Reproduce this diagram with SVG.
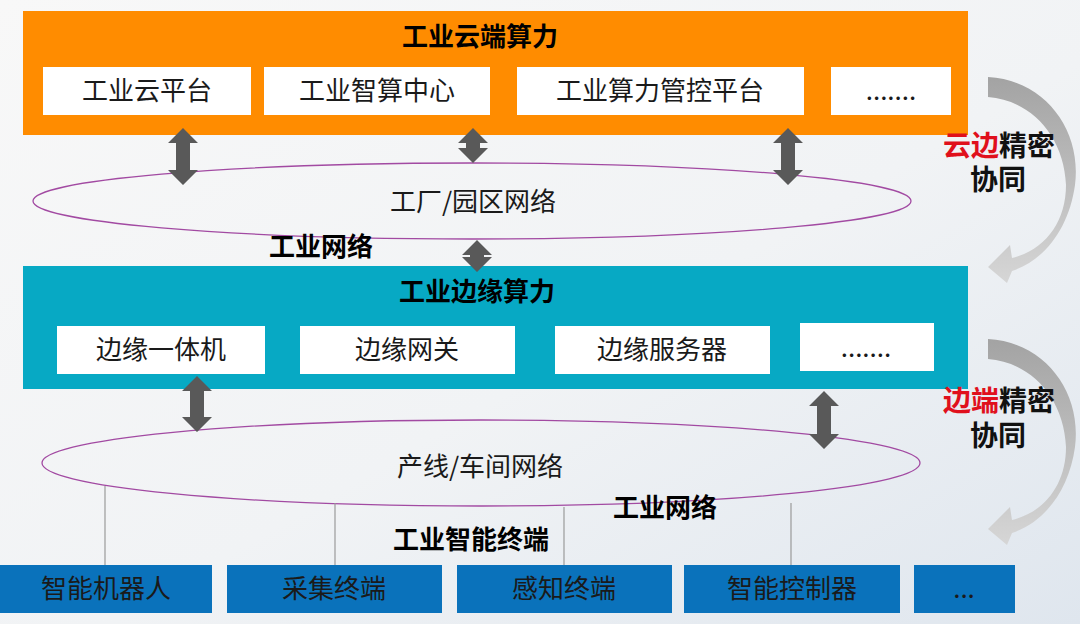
<svg xmlns="http://www.w3.org/2000/svg" width="1080" height="624" viewBox="0 0 1080 624">
<defs>
<linearGradient id="bg" x1="0" y1="0" x2="1" y2="1">
<stop offset="0" stop-color="#f8f8f8"/>
<stop offset="0.55" stop-color="#f1f3f5"/>
<stop offset="1" stop-color="#dfe6ee"/>
</linearGradient>
<linearGradient id="curv" x1="0" y1="0" x2="0" y2="1">
<stop offset="0" stop-color="#a3a3a3"/>
<stop offset="1" stop-color="#d6d6d6"/>
</linearGradient>
<path id="curved" d="M 988 77 C 1045 80 1082 130 1075 185 C 1069 228 1045 260 1012 271 L 1007 283 L 988 267 L 1010 245 L 1012 258 C 1045 250 1066 222 1066 185 C 1064 135 1030 100 988 97 Z" fill="url(#curv)"/>
</defs>
<style>
.t{font-family:"Noto Sans CJK SC","Noto Sans",sans-serif;font-size:26px;fill:#1a1a1a;text-anchor:middle}
.b{font-weight:bold;fill:#000}
.wb{fill:#fff}
.dbl{fill:#595959}
.ell{fill:none;stroke:#a24aa2;stroke-width:1.3}
.vl{stroke:#9a9a9a;stroke-width:1.2}
.blue{fill:#0a72bb}
.big{font-size:28px;font-weight:bold;fill:#111}
.red{fill:#e0101c}
</style>
<rect width="1080" height="624" fill="url(#bg)"/>

<g id="cloud">
<rect x="23" y="11" width="945" height="124" fill="#ff8c00"/>
<text class="t b" x="480" y="46">工业云端算力</text>
</g>
<g id="cloud-platform"><rect class="wb" x="43" y="67" width="208" height="48"/><text class="t" x="147" y="100">工业云平台</text></g>
<g id="cloud-compute"><rect class="wb" x="264" y="67" width="226" height="48"/><text class="t" x="377" y="100">工业智算中心</text></g>
<g id="cloud-control"><rect class="wb" x="517" y="67" width="287" height="48"/><text class="t" x="660" y="100">工业算力管控平台</text></g>
<g id="cloud-more"><rect class="wb" x="831" y="67" width="120" height="48"/><text class="t" x="891" y="100">.......</text></g>

<g id="factory-net">
<ellipse class="ell" cx="472" cy="201" rx="439" ry="38"/>
<text class="t" x="473" y="211">工厂/园区网络</text>
</g>
<g id="label-net1"><text class="t b" x="321" y="256">工业网络</text></g>

<g id="edge">
<rect x="23" y="266" width="945" height="123" fill="#07a9c4"/>
<text class="t b" x="477" y="301">工业边缘算力</text>
</g>
<g id="edge-box"><rect class="wb" x="57" y="326" width="208" height="48"/><text class="t" x="161" y="359">边缘一体机</text></g>
<g id="edge-gw"><rect class="wb" x="300" y="326" width="215" height="48"/><text class="t" x="407" y="359">边缘网关</text></g>
<g id="edge-server"><rect class="wb" x="555" y="326" width="215" height="48"/><text class="t" x="662" y="359">边缘服务器</text></g>
<g id="edge-more"><rect class="wb" x="800" y="323" width="134" height="48"/><text class="t" x="866" y="357">.......</text></g>

<g id="line-net">
<ellipse class="ell" cx="481" cy="463" rx="439" ry="43"/>
<text class="t" x="480" y="476">产线/车间网络</text>
</g>
<g id="label-net2"><text class="t b" x="665" y="517">工业网络</text></g>
<g id="label-term"><text class="t b" x="471" y="549">工业智能终端</text></g>

<g id="term-robot"><rect class="blue" x="0" y="565" width="212" height="48"/><text class="t" x="106" y="598">智能机器人</text></g>
<g id="term-collect"><rect class="blue" x="227" y="565" width="215" height="48"/><text class="t" x="334" y="598">采集终端</text></g>
<g id="term-sense"><rect class="blue" x="457" y="565" width="215" height="48"/><text class="t" x="564" y="598">感知终端</text></g>
<g id="term-ctrl"><rect class="blue" x="684" y="565" width="216" height="48"/><text class="t" x="792" y="598">智能控制器</text></g>
<g id="term-more"><rect class="blue" x="914" y="565" width="101" height="48"/><text class="t" x="964" y="598">...</text></g>

<g id="sync-cloud-edge">
<use href="#curved"/>
<text class="t big" x="999" y="156"><tspan class="red">云边</tspan>精密<tspan x="998" y="190">协同</tspan></text>
</g>
<g id="sync-edge-term">
<use href="#curved" transform="translate(0,262)"/>
<text class="t big" x="999" y="411"><tspan class="red">边端</tspan>精密<tspan x="998" y="446">协同</tspan></text>
</g>

<g id="connectors">
<polygon class="dbl" points="183,128 198,143 190,143 190,170 198,170 183,185 168,170 176,170 176,143 168,143"/>
<polygon class="dbl" points="473,128 488,143 480,143 480,148 488,148 473,163 458,148 466,148 466,143 458,143"/>
<polygon class="dbl" points="788,128 803,143 795,143 795,170 803,170 788,185 773,170 781,170 781,143 773,143"/>
<polygon class="dbl" points="477,240 492,255 484,255 484,257 492,257 477,272 462,257 470,257 470,255 462,255"/>
<polygon class="dbl" points="197,376 212,391 204,391 204,417 212,417 197,432 182,417 190,417 190,391 182,391"/>
<polygon class="dbl" points="824,391 839,406 831,406 831,434 839,434 824,449 809,434 817,434 817,406 809,406"/>
<line class="vl" x1="105" y1="486" x2="105" y2="565"/>
<line class="vl" x1="335" y1="503" x2="335" y2="565"/>
<line class="vl" x1="564" y1="507" x2="564" y2="565"/>
<line class="vl" x1="791" y1="503" x2="791" y2="565"/>
</g>
</svg>
